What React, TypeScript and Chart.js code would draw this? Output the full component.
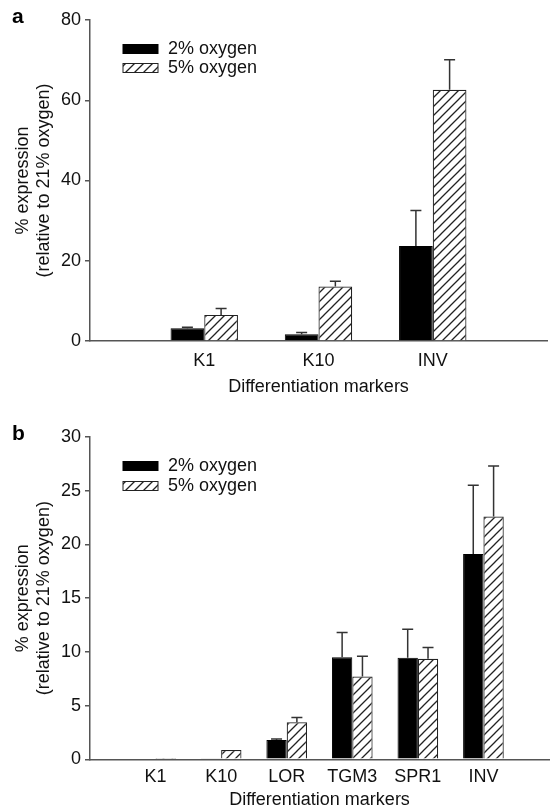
import React, { useEffect, useRef } from "react";
import { Chart, registerables } from "chart.js";

Chart.register(...registerables);

// ---------- data ----------
const seriesNames = ["2% oxygen", "5% oxygen"];
const xTitle = "Differentiation markers";
const yTitle = ["% expression", "(relative to 21% oxygen)"];

// Panel a
const labelsA = ["", "K1", "K10", "INV", ""];
const o2A = [null, 3.2, 1.7, 23.7, null];
const o2ErrA = [null, 0.2, 0.4, 8.8, null];
const o5A = [null, 6.5, 13.6, 62.6, null];
const o5ErrA = [null, 1.6, 1.3, 7.5, null];
const ticksA = [0, 20, 40, 60, 80];

// Panel b
const labelsB = ["", "K1", "K10", "LOR", "TGM3", "SPR1", "INV", ""];
const o2B = [null, 0, 0.05, 1.8, 9.5, 9.45, 19.1, null];
const o2ErrB = [null, 0, 0, 0.1, 2.3, 2.65, 6.4, null];
const o5B = [null, 0.03, 0.87, 3.45, 7.7, 9.35, 22.6, null];
const o5ErrB = [null, 0, 0, 0.45, 1.9, 1.05, 4.7, null];
const ticksB = [0, 5, 10, 15, 20, 25, 30];

const FONT = '"Liberation Sans", Arial, Helvetica, sans-serif';

function makeHatch(ctx: CanvasRenderingContext2D) {
  const s = 9;
  const c = document.createElement("canvas");
  c.width = s;
  c.height = s;
  const g = c.getContext("2d")!;
  g.fillStyle = "#fff";
  g.fillRect(0, 0, s, s);
  g.strokeStyle = "#222";
  g.lineWidth = 1.3;
  g.beginPath();
  g.moveTo(-1, s + 1);
  g.lineTo(s + 1, -1);
  g.moveTo(-1, 1);
  g.lineTo(1, -1);
  g.moveTo(s - 1, s + 1);
  g.lineTo(s + 1, s - 1);
  g.stroke();
  return ctx.createPattern(c, "repeat");
}

const errorBars = {
  id: "errorBars",
  afterDatasetsDraw(chart: any) {
    const ctx = chart.ctx;
    const y = chart.scales.y;
    chart.data.datasets.forEach((ds: any, i: number) => {
      const errs = ds.errors;
      if (!errs) return;
      const meta = chart.getDatasetMeta(i);
      meta.data.forEach((bar: any, j: number) => {
        const v = ds.data[j];
        const e = errs[j];
        if (v == null || !e) return;
        const yTop = y.getPixelForValue(v + e);
        const yBar = y.getPixelForValue(v);
        ctx.save();
        ctx.strokeStyle = "#333";
        ctx.lineWidth = 1.5;
        ctx.beginPath();
        ctx.moveTo(bar.x, yBar);
        ctx.lineTo(bar.x, yTop);
        ctx.moveTo(bar.x - 5.5, yTop);
        ctx.lineTo(bar.x + 5.5, yTop);
        ctx.stroke();
        ctx.restore();
      });
    });
  },
};

const boxLegend = {
  id: "boxLegend",
  afterDraw(chart: any, _args: any, opts: any) {
    const ctx = chart.ctx;
    const a = chart.chartArea;
    const rows: number[] = opts.rows || [29, 48];
    chart.data.datasets.forEach((ds: any, i: number) => {
      const cy = a.top + rows[i];
      const bx = a.left + 33;
      ctx.save();
      ctx.fillStyle = ds.backgroundColor;
      ctx.fillRect(bx, cy - 4.5, 35, 9);
      ctx.strokeStyle = ds.borderColor;
      ctx.lineWidth = 1;
      ctx.strokeRect(bx, cy - 4.5, 35, 9);
      ctx.fillStyle = "#111";
      ctx.font = `18px ${FONT}`;
      ctx.textBaseline = "middle";
      ctx.textAlign = "left";
      ctx.fillText(ds.label, bx + 45, cy);
      ctx.restore();
    });
  },
};

function makeConfig(
  ctx: CanvasRenderingContext2D,
  labels: string[],
  d2: any[],
  e2: any[],
  d5: any[],
  e5: any[],
  ticks: number[],
  cp: number,
  padding: any,
  tickPad: number,
  xHeight: number,
  titlePadBottom: number,
  titleLH: number,
  legendRows: number[]
): any {
  const hatch = makeHatch(ctx);
  return {
    type: "bar",
    data: {
      labels,
      datasets: [
        {
          label: seriesNames[0],
          data: d2,
          errors: e2,
          backgroundColor: "#000",
          borderColor: "#000",
          borderWidth: 1,
          categoryPercentage: cp,
          barPercentage: 1,
        },
        {
          label: seriesNames[1],
          data: d5,
          errors: e5,
          backgroundColor: hatch,
          borderColor: "#222",
          borderWidth: 1.2,
          categoryPercentage: cp,
          barPercentage: 1,
        },
      ],
    },
    options: {
      animation: false,
      responsive: false,
      maintainAspectRatio: false,
      layout: { padding },
      plugins: {
        legend: { display: false },
        tooltip: { enabled: false },
        boxLegend: { rows: legendRows },
      },
      scales: {
        x: {
          type: "category",
          offset: false,
          afterFit: (scale: any) => {
            scale.height = xHeight;
          },
          grid: { display: false, drawTicks: false },
          border: { display: true, color: "#555", width: 1.5 },
          ticks: {
            color: "#111",
            padding: tickPad,
            maxRotation: 0,
            autoSkip: false,
            font: { family: FONT, size: 18 },
          },
          title: {
            display: true,
            text: xTitle,
            color: "#111",
            padding: { top: 0, bottom: titlePadBottom },
            font: { family: FONT, size: 18, lineHeight: titleLH },
          },
        },
        y: {
          min: ticks[0],
          max: ticks[ticks.length - 1],
          afterBuildTicks: (scale: any) => {
            scale.ticks = ticks.map((v) => ({ value: v }));
          },
          afterFit: (scale: any) => {
            scale.width = 90;
          },
          grid: {
            drawOnChartArea: false,
            drawTicks: true,
            tickLength: 5,
            color: "#555",
            lineWidth: 1.5,
          },
          border: { display: true, color: "#555", width: 1.5 },
          ticks: {
            color: "#111",
            padding: 4,
            font: { family: FONT, size: 18 },
          },
          title: {
            display: true,
            text: yTitle,
            color: "#111",
            padding: { top: 12, bottom: 0 },
            font: { family: FONT, size: 18, lineHeight: 1.2 },
          },
        },
      },
    },
    plugins: [errorBars, boxLegend],
  };
}

function Panel(props: { which: "a" | "b" }) {
  const ref = useRef<HTMLCanvasElement>(null);
  useEffect(() => {
    const canvas = ref.current!;
    const ctx = canvas.getContext("2d")!;
    const cfg =
      props.which === "a"
        ? makeConfig(ctx, labelsA, o2A, o2ErrA, o5A, o5ErrA, ticksA, 0.59,
            { left: 0, right: 4, top: 20, bottom: 0 }, 9, 59, 2.5, 1.2, [29, 48])
        : makeConfig(ctx, labelsB, o2B, o2ErrB, o5B, o5ErrB, ticksB, 0.62,
            { left: 0, right: 2, top: 37, bottom: 0 }, 7, 50.7, 0, 1.1, [29, 49]);
    const chart = new Chart(ctx, cfg);
    return () => chart.destroy();
  }, [props.which]);
  const h = props.which === "a" ? 400 : 410;
  return (
    <canvas
      ref={ref}
      width={556}
      height={h}
      style={{
        position: "absolute",
        left: 0,
        top: props.which === "a" ? 0 : 400,
        width: 556,
        height: h,
        display: "block",
      }}
    />
  );
}

export default function App() {
  const lab: React.CSSProperties = {
    position: "absolute",
    left: 12,
    fontFamily: FONT,
    fontWeight: "bold",
    fontSize: 21,
    lineHeight: "21px",
    color: "#000",
  };
  return (
    <div
      style={{
        position: "absolute",
        left: 0,
        top: 0,
        width: 556,
        height: 810,
        background: "#fff",
        overflow: "hidden",
      }}
    >
      <Panel which="a" />
      <Panel which="b" />
      <div style={{ ...lab, top: 5 }}>a</div>
      <div style={{ ...lab, top: 422 }}>b</div>
    </div>
  );
}
